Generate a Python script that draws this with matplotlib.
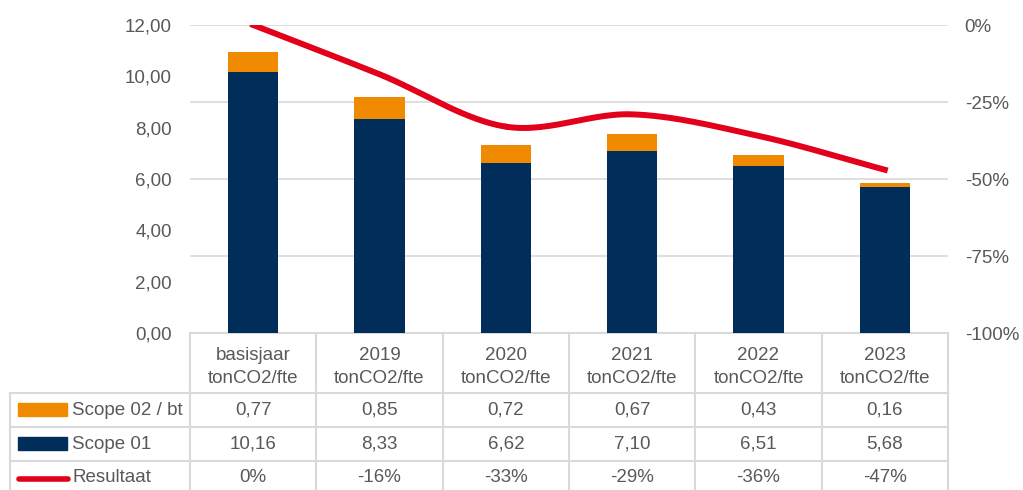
import numpy as np
import matplotlib
matplotlib.use("Agg")
import matplotlib.pyplot as plt
from matplotlib.ticker import FuncFormatter

plt.rcParams['font.family'] = ['Liberation Sans Narrow', 'Liberation Sans', 'DejaVu Sans']

years = ['basisjaar', '2019', '2020', '2021', '2022', '2023']
unit = 'tonCO2/fte'
scope02 = [0.77, 0.85, 0.72, 0.67, 0.43, 0.16]
scope01 = [10.16, 8.33, 6.62, 7.10, 6.51, 5.68]
resultaat = [0, -16, -33, -29, -36, -47]

c_orange = '#F08A00'
c_navy = '#002D5A'
c_red = '#E2001A'
c_text = '#595959'
c_grid = '#D9D9D9'
fs = 13.5


def catmull_rom(xs, ys, n=30):
    # smoothed line like the spreadsheet's "smooth line" option
    px = np.concatenate([[2 * xs[0] - xs[1]], xs, [2 * xs[-1] - xs[-2]]])
    py = np.concatenate([[2 * ys[0] - ys[1]], ys, [2 * ys[-1] - ys[-2]]])
    ox, oy = [], []
    for i in range(1, len(px) - 2):
        t = np.linspace(0, 1, n)
        for p, out in ((px, ox), (py, oy)):
            p0, p1, p2, p3 = p[i - 1], p[i], p[i + 1], p[i + 2]
            out.extend(0.5 * ((2 * p1) + (-p0 + p2) * t + (2 * p0 - 5 * p1 + 4 * p2 - p3) * t ** 2
                              + (-p0 + 3 * p1 - 3 * p2 + p3) * t ** 3))
    return np.array(ox), np.array(oy)


W, H = 1023, 490
fig = plt.figure(figsize=(W / 100, H / 100), dpi=100)
x0, x1, ytop, ybot = 190, 948, 25, 333
ax = fig.add_axes([x0 / W, 1 - ybot / H, (x1 - x0) / W, (ybot - ytop) / H])
ax2 = ax.twinx()

x = np.arange(len(years))
ax.bar(x, scope01, 0.4, color=c_navy, zorder=3)
ax.bar(x, scope02, 0.4, bottom=scope01, color=c_orange, zorder=3)
ax.set_xlim(-0.5, len(years) - 0.5)
ax.set_ylim(0, 12)
ax.set_yticks(np.arange(0, 13, 2))
ax.yaxis.set_major_formatter(FuncFormatter(lambda v, p: f'{v:.2f}'.replace('.', ',')))
ax.set_xticks([])
ax.tick_params(axis='y', length=0, labelsize=fs, labelcolor=c_text, pad=13)

ax2.set_ylim(-1, 0)
ax2.set_yticks([0, -0.25, -0.5, -0.75, -1])
ax2.yaxis.set_major_formatter(FuncFormatter(lambda v, p: f'{v * 100:.0f}%'))
ax2.tick_params(axis='y', length=0, labelsize=fs, labelcolor=c_text, pad=12)
ax2.grid(axis='y', color=c_grid, lw=1.2)
ax.set_zorder(ax2.get_zorder() + 1)
ax.patch.set_visible(False)
for a in (ax, ax2):
    for s in a.spines.values():
        s.set_visible(False)

# red line drawn on the top axes but in the secondary axis' scale
sx, sy = catmull_rom(x.astype(float), np.array(resultaat, dtype=float) / 100)
ax.plot(sx, sy, color=c_red, lw=4.3, transform=ax2.transData, zorder=4)

# data table below the plot
tax = fig.add_axes([0, 0, 1, 1])
tax.set_xlim(0, W)
tax.set_ylim(H, 0)
tax.axis('off')
tax.patch.set_visible(False)
fig.canvas.draw()
inv = tax.transData.inverted()
edges = [inv.transform(ax.transData.transform((i - 0.5, 0)))[0] for i in range(len(years) + 1)]
centers = [inv.transform(ax.transData.transform((i, 0)))[0] for i in range(len(years))]
rows = [333, 393, 427, 461, 500]
lc = dict(color=c_grid, lw=1.5)
tax.plot([edges[0], edges[-1]], [rows[0], rows[0]], **lc)
for r in rows[1:4]:
    tax.plot([10, edges[-1]], [r, r], **lc)
for e in edges:
    tax.plot([e, e], [rows[0], rows[-1]], **lc)
tax.plot([10, 10], [rows[1], rows[-1]], **lc)

for c, yr in zip(centers, years):
    tax.text(c, 355, yr, ha='center', va='center', fontsize=fs, color=c_text)
    tax.text(c, 378, unit, ha='center', va='center', fontsize=fs, color=c_text)
ycs = [410, 444, 477]
for vals, yc, fmt in ((scope02, ycs[0], '{:.2f}'), (scope01, ycs[1], '{:.2f}'), (resultaat, ycs[2], '{:.0f}%')):
    for c, v in zip(centers, vals):
        tax.text(c, yc, fmt.format(v).replace('.', ','), ha='center', va='center', fontsize=fs, color=c_text)

labels = ['Scope 02 / bt', 'Scope 01', 'Resultaat']
tax.add_patch(plt.Rectangle((18, 403), 49, 13, color=c_orange))
tax.add_patch(plt.Rectangle((18, 437), 49, 13, color=c_navy))
tax.plot([19, 68], [479, 479], color=c_red, lw=4, solid_capstyle='round')
for lab, yc in zip(labels, ycs):
    tax.text(72, yc, lab, ha='left', va='center', fontsize=fs, color=c_text)

fig.savefig('out.png', dpi=100)
